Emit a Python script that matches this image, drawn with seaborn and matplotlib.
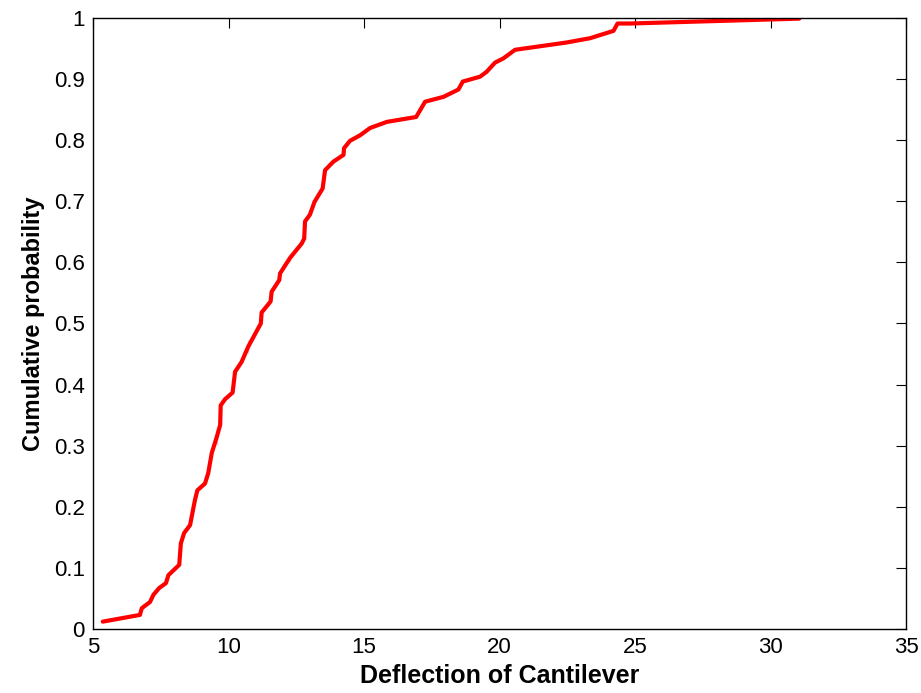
import matplotlib
matplotlib.use("Agg")
import matplotlib.pyplot as plt
import seaborn as sns
import pandas as pd
from matplotlib.ticker import FuncFormatter

# Empirical CDF of cantilever deflection
deflection = [5.36, 6.73, 6.80, 7.10, 7.23, 7.44, 7.69, 7.78, 8.18, 8.24, 8.36, 8.58,
              8.76, 8.85, 9.13, 9.25, 9.38, 9.56, 9.56, 9.69, 9.71, 9.87, 10.15, 10.24,
              10.48, 10.73, 10.73, 11.19, 11.22, 11.55, 11.59, 11.87, 11.90, 12.27, 12.27,
              12.70, 12.79, 12.82, 13.00, 13.17, 13.47, 13.56, 13.87, 14.24, 14.26, 14.48,
              14.85, 15.22, 15.84, 16.92, 17.25, 17.93, 18.48, 18.64, 19.28, 19.52, 19.83,
              20.14, 20.57, 22.48, 23.34, 24.20, 24.35, 24.80, 31.05]
cum_prob = [0.012, 0.023, 0.034, 0.044, 0.056, 0.067, 0.075, 0.088, 0.105, 0.140, 0.157, 0.170,
            0.211, 0.227, 0.238, 0.255, 0.288, 0.301, 0.326, 0.334, 0.366, 0.376, 0.387, 0.421,
            0.437, 0.452, 0.473, 0.500, 0.518, 0.536, 0.552, 0.571, 0.582, 0.601, 0.614,
            0.631, 0.639, 0.667, 0.678, 0.699, 0.721, 0.751, 0.765, 0.776, 0.787, 0.799,
            0.808, 0.820, 0.830, 0.838, 0.863, 0.871, 0.883, 0.896, 0.904, 0.912, 0.927,
            0.934, 0.948, 0.960, 0.967, 0.979, 0.991, 0.991, 0.999]

x_ticks = [5, 10, 15, 20, 25, 30, 35]
y_ticks = [0, 0.1, 0.2, 0.3, 0.4, 0.5, 0.6, 0.7, 0.8, 0.9, 1.0]

sns.set_style("white")
plt.rcParams['font.family'] = ['Liberation Sans', 'DejaVu Sans']
plt.rcParams['text.color'] = 'black'
plt.rcParams['axes.labelcolor'] = 'black'
plt.rcParams['xtick.color'] = 'black'
plt.rcParams['ytick.color'] = 'black'

df = pd.DataFrame({"x": deflection, "p": cum_prob})

fig = plt.figure(figsize=(9.21, 6.93), dpi=100)
ax = fig.add_axes([0.101, 0.0924, 0.883, 0.8816])

sns.lineplot(data=df, x="x", y="p", sort=False, color="#ff0000", linewidth=3, ax=ax)

ax.set_xlim(5, 35)
ax.set_ylim(0, 1)
ax.set_xticks(x_ticks)
ax.set_yticks(y_ticks)
ax.yaxis.set_major_formatter(FuncFormatter(lambda v, _: f"{v:g}"))
ax.tick_params(direction="in", top=True, right=True, length=7, width=0.8,
               labelsize=16, colors="black", pad=6)
for s in ax.spines.values():
    s.set_color("black")
    s.set_linewidth(1.0)

ax.set_xlabel("Deflection of Cantilever", fontsize=18, fontweight="bold", labelpad=4)
ax.set_ylabel("Cumulative probability", fontsize=17, fontweight="bold", labelpad=6)

fig.savefig("out.png", dpi=100, facecolor="white")
